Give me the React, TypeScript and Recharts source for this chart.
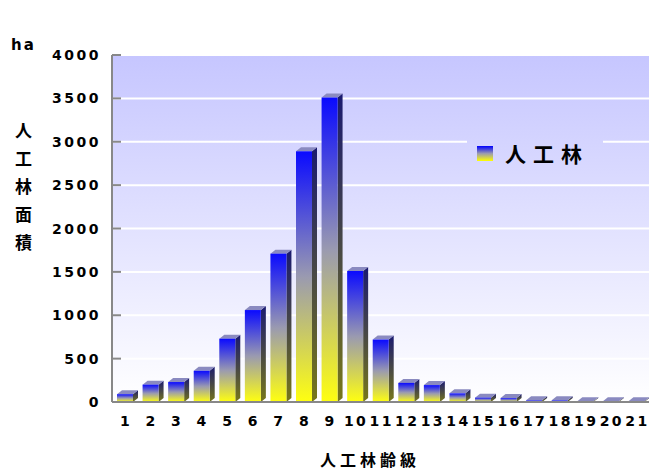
import { BarChart, Bar, XAxis, YAxis, CartesianGrid } from 'recharts'

const ageClasses = ['1', '2', '3', '4', '5', '6', '7', '8', '9', '10', '11', '12', '13', '14', '15', '16', '17', '18', '19', '20', '21']
const plantedArea = [90, 200, 230, 360, 730, 1060, 1710, 2890, 3510, 1510, 720, 220, 195, 100, 50, 45, 20, 20, 5, 5, 5]
const yTicks = [0, 500, 1000, 1500, 2000, 2500, 3000, 3500, 4000]

const data = ageClasses.map((age, i) => ({ age, area: plantedArea[i] }))

const W = 649
const H = 470
const PLOT = { left: 112, top: 55, right: 649, bottom: 402 }
const BG = 'linear-gradient(to bottom, #c6c6ff 0%, #e2e2ff 50%, #ffffff 100%)'
const bold = { fontFamily: '"DejaVu Sans", sans-serif', fontWeight: 700 }
const cjk = { fontFamily: '"Noto Sans CJK JP", sans-serif', fontWeight: 700 }

function Bar3D(props: any) {
  const { x, y, width, height } = props
  const dx = 5
  const dy = 4
  const h = Math.max(height, 0.8)
  const top = y + height - h
  return (
    <g>
      <defs>
        <linearGradient id="frontGrad" x1="0" y1="0" x2="0" y2="1">
          <stop offset="0%" stopColor="#0a0aff" />
          <stop offset="50%" stopColor="#9a9ab0" />
          <stop offset="100%" stopColor="#ffff10" />
        </linearGradient>
        <linearGradient id="sideGrad" x1="0" y1="0" x2="0" y2="1">
          <stop offset="0%" stopColor="#1a1a70" />
          <stop offset="100%" stopColor="#77771a" />
        </linearGradient>
      </defs>
      <polygon
        points={`${x + width},${top} ${x + width + dx},${top - dy} ${x + width + dx},${top + h - dy} ${x + width},${top + h}`}
        fill="url(#sideGrad)"
      />
      <polygon
        points={`${x},${top} ${x + dx},${top - dy} ${x + width + dx},${top - dy} ${x + width},${top}`}
        fill="#8a8ac0"
      />
      <rect x={x} y={top} width={width} height={h} fill="url(#frontGrad)" />
    </g>
  )
}

function YTick(props: any) {
  const { y, payload } = props
  return (
    <g>
      <line x1={PLOT.left} x2={PLOT.left + 9} y1={y} y2={y} stroke="#888" strokeWidth={2} />
      <text x={101} y={y} dy={5} textAnchor="end" fontSize={14} letterSpacing={2.5} fill="#000" style={bold}>
        {payload.value}
      </text>
    </g>
  )
}

function XTick(props: any) {
  const { x, y, payload } = props
  return (
    <text x={x + 1.2} y={y + 16} textAnchor="middle" fontSize={14} letterSpacing={2.4} fill="#000" style={bold}>
      {payload.value}
    </text>
  )
}

export default function App() {
  const yTitle = ['人', '工', '林', '面', '積']
  return (
    <div style={{ position: 'absolute', left: 0, top: 0, width: W, height: H, background: '#fff' }}>
      <div
        style={{
          position: 'absolute',
          left: PLOT.left,
          top: PLOT.top,
          width: PLOT.right - PLOT.left,
          height: PLOT.bottom - PLOT.top,
          background: BG,
        }}
      />
      <div style={{ position: 'absolute', left: 0, top: 0 }}>
        <BarChart width={W} height={H} data={data} margin={{ top: PLOT.top, right: 0, bottom: H - PLOT.bottom - 30, left: 0 }}>
          <CartesianGrid vertical={false} stroke="#ffffff" strokeWidth={2} />
          <XAxis dataKey="age" interval={0} height={30} axisLine={{ stroke: '#888', strokeWidth: 2 }} tickLine={false} tick={<XTick />} />
          <YAxis
            width={PLOT.left}
            domain={[0, 4000]}
            ticks={yTicks}
            interval={0}
            axisLine={{ stroke: '#888', strokeWidth: 2 }}
            tickLine={false}
            tick={<YTick />}
          />
          <Bar dataKey="area" barSize={16} shape={<Bar3D />} isAnimationActive={false} />
        </BarChart>
      </div>
      <div style={{ position: 'absolute', left: 11, top: 36, fontSize: 15, letterSpacing: 2, ...bold }}>ha</div>
      {yTitle.map((c, i) => (
        <div key={c} style={{ position: 'absolute', left: 15, top: 119 + i * 28, fontSize: 17, lineHeight: '22px', ...cjk }}>
          {c}
        </div>
      ))}
      <div
        style={{
          position: 'absolute',
          left: 467,
          top: 130,
          width: 136,
          height: 46,
          background: BG,
          backgroundSize: `${PLOT.right - PLOT.left}px ${PLOT.bottom - PLOT.top}px`,
          backgroundPosition: `${PLOT.left - 467}px ${PLOT.top - 130}px`,
          display: 'flex',
          alignItems: 'center',
        }}
      >
        <div style={{ width: 16, height: 15, marginLeft: 10, background: 'linear-gradient(to bottom, #0000ff, #9a9ab0, #ffff00)' }} />
        <div style={{ marginLeft: 12, fontSize: 21, letterSpacing: 7, ...cjk }}>人工林</div>
      </div>
      <div
        style={{
          position: 'absolute',
          left: 270,
          width: 200,
          top: 451,
          height: 17,
          lineHeight: '17px',
          textAlign: 'center',
          fontSize: 16,
          letterSpacing: 4,
          ...cjk,
        }}
      >
        人工林齢級
      </div>
    </div>
  )
}
